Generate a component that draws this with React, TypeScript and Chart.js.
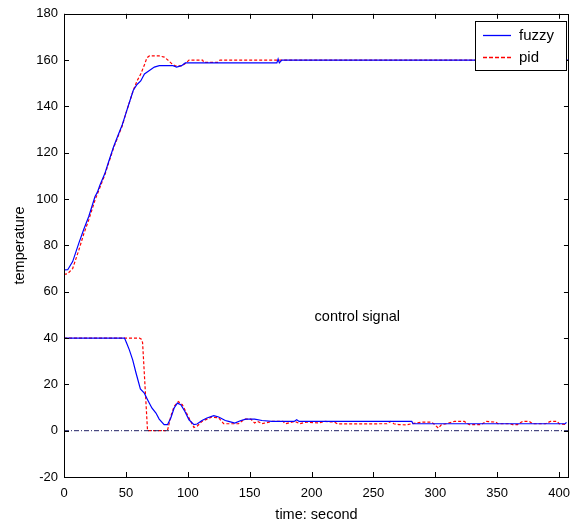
import React, { useEffect, useRef } from "react";
import { Chart, registerables } from "chart.js";

Chart.register(...registerables);

// ---- data ----
const xTicks = [0, 50, 100, 150, 200, 250, 300, 350, 400];
const yTicks = [-20, 0, 20, 40, 60, 80, 100, 120, 140, 160, 180];

const fuzzyTempT = [0, 3, 7, 12, 16, 20, 25, 27, 29, 33, 36, 40, 44, 47, 50, 53, 56, 59, 62, 65, 69, 73, 77, 82, 88, 91, 95, 98, 101, 140, 172, 173, 174, 176, 408];
const fuzzyTempV = [69.4, 69.5, 73, 81, 87, 92.5, 101, 103, 106, 111, 116, 122.5, 128, 132, 137, 142, 147, 149.5, 151, 154, 155.5, 157, 157.6, 157.6, 157.6, 157, 157.6, 158.8, 158.8, 158.8, 158.8, 160.5, 158.8, 160, 160];

const pidTempT = [0, 3, 7, 12, 16, 20, 25, 29, 33, 36, 40, 44, 47, 50, 53, 56, 59, 62, 65, 67, 69, 77, 81, 84, 87, 90, 95, 98, 101, 112, 113, 124, 126, 408];
const pidTempV = [67.5, 67.8, 70, 78, 85, 91, 99.5, 105, 110.5, 115.5, 122, 127.5, 131.5, 137, 142, 147, 151, 154, 158, 161, 161.8, 161.8, 161.3, 160, 158.5, 157.5, 157.5, 158.5, 160, 160, 159, 159, 160, 160];

const fuzzyCtrlT = [0, 48.9, 50.5, 52.8, 55.5, 58.2, 61.7, 64.9, 67.5, 71, 74.3, 76.9, 80.9, 83.6, 86.3, 89, 91.6, 94.4, 97.7, 101, 105, 107.5, 111.5, 115.5, 121, 125, 130.3, 133, 138, 143, 147, 154, 160, 168, 186, 188, 190, 281, 282, 405, 406];
const fuzzyCtrlV = [40, 40, 38, 34.9, 30.6, 24.9, 18, 16.2, 13.4, 9.8, 7.6, 5, 2.6, 2.6, 5.5, 9.8, 11.9, 11.2, 8.3, 4.7, 2.6, 2.9, 4.4, 5.5, 6.5, 5.9, 4.4, 4, 3.3, 4.4, 5, 5, 4.4, 4, 4, 4.7, 4, 4, 3, 3, 3.6];

const pidCtrlT = [0, 61, 62.5, 63.5, 67.5, 83.6, 86.3, 89, 92.4, 95.6, 101, 105, 107.5, 111.5, 115.5, 119.5, 125, 129, 141, 146, 151, 154, 156.5, 160, 168, 176.9, 179, 186.5, 190.5, 196, 206, 210.5, 218.5, 221, 261, 264, 266.5, 270.5, 277, 281, 289, 297, 299.5, 302.5, 305, 309, 315.5, 323.5, 327.5, 337, 341, 349, 350.5, 360, 362.5, 366.5, 370.5, 376, 378.5, 389, 393, 398.5, 400, 406];
const pidCtrlV = [40, 40, 39.5, 38, 0, 0, 6.2, 10.5, 12.6, 11.2, 5.5, 1.4, 1.9, 4, 5, 5.9, 5.5, 3, 3, 5, 5, 3.3, 4, 3, 4, 4, 3, 4, 3, 3.7, 3.3, 4, 3.7, 2.9, 3, 4, 3, 2.6, 2.5, 3, 3.7, 3.7, 2.6, 1.1, 2.6, 3, 4, 4, 2.6, 2.6, 4, 3.7, 3, 3, 2.6, 2.6, 4, 4, 3, 3, 4, 4, 3, 2.6];

const zeroT = [0, 408];
const zeroV = [0, 0];

const legendLabels = ["fuzzy", "pid"];
const annotationText = "control signal";
const xTitle = "time: second";
const yTitle = "temperature";

const pts = (t: number[], v: number[]) => t.map((x, i) => ({ x, y: v[i] }));

const FONT = "'Liberation Sans', Arial, sans-serif";

const decorPlugin = {
  id: "decor",
  afterDatasetsDraw(chart: any) {
    const { ctx, chartArea: a, scales } = chart;
    const xs = scales.x;
    const ys = scales.y;
    ctx.save();
    ctx.lineWidth = 1;
    // frame
    ctx.strokeStyle = "#000";
    ctx.strokeRect(Math.round(a.left) + 0.5, Math.round(a.top) + 0.5, Math.round(a.right - a.left) - 1, Math.round(a.bottom - a.top));
    // inward ticks
    const tl = 5;
    ctx.beginPath();
    xTicks.forEach((t) => {
      const px = Math.round(xs.getPixelForValue(t)) + 0.5;
      ctx.moveTo(px, a.bottom);
      ctx.lineTo(px, a.bottom - tl);
      ctx.moveTo(px, a.top);
      ctx.lineTo(px, a.top + tl);
    });
    yTicks.forEach((v) => {
      const py = Math.round(ys.getPixelForValue(v)) + 0.5;
      ctx.moveTo(a.left, py);
      ctx.lineTo(a.left + tl, py);
      ctx.moveTo(a.right, py);
      ctx.lineTo(a.right - tl, py);
    });
    ctx.stroke();
    // annotation
    ctx.fillStyle = "#000";
    ctx.font = `14.5px ${FONT}`;
    ctx.textAlign = "center";
    ctx.textBaseline = "middle";
    ctx.fillText(annotationText, xs.getPixelForValue(237), ys.getPixelForValue(49));
    // legend
    const lx = 475.5, ly = 21.5, lw = 91, lh = 49;
    ctx.fillStyle = "#fff";
    ctx.fillRect(lx, ly, lw, lh);
    ctx.strokeStyle = "#000";
    ctx.strokeRect(lx, ly, lw, lh);
    ctx.font = `15px ${FONT}`;
    const rows = [
      { label: legendLabels[0], color: "rgb(0,0,255)", dash: [] as number[], y: 35.5 },
      { label: legendLabels[1], color: "rgb(255,0,0)", dash: [4, 2] as number[], y: 57.5 },
    ];
    rows.forEach((r) => {
      ctx.save();
      ctx.beginPath();
      ctx.setLineDash(r.dash);
      ctx.strokeStyle = r.color;
      ctx.lineWidth = 1.3;
      ctx.moveTo(483, r.y);
      ctx.lineTo(511, r.y);
      ctx.stroke();
      ctx.restore();
      ctx.fillStyle = "#000";
      ctx.textAlign = "left";
      ctx.fillText(r.label, 519, r.y);
    });
    ctx.restore();
  },
};

export default function App() {
  const ref = useRef<HTMLCanvasElement>(null);
  useEffect(() => {
    document.body.style.margin = "0";
    const chart = new Chart(ref.current!, {
      type: "line",
      data: {
        datasets: [
          { label: "zero", data: pts(zeroT, zeroV), borderColor: "#222266", borderWidth: 1, borderDash: [5, 2, 1, 2], pointRadius: 0 },
          { label: "fuzzyTemp", data: pts(fuzzyTempT, fuzzyTempV), borderColor: "#0000ff", borderWidth: 1.2, pointRadius: 0, tension: 0 },
          { label: "pidTemp", data: pts(pidTempT, pidTempV), borderColor: "#ff0000", borderWidth: 1.2, borderDash: [3, 2], pointRadius: 0, tension: 0 },
          { label: "fuzzyCtrl", data: pts(fuzzyCtrlT, fuzzyCtrlV), borderColor: "#0000ff", borderWidth: 1.2, pointRadius: 0, tension: 0 },
          { label: "pidCtrl", data: pts(pidCtrlT, pidCtrlV), borderColor: "#ff0000", borderWidth: 1.2, borderDash: [3, 2], pointRadius: 0, tension: 0 },
        ],
      },
      options: {
        animation: false,
        responsive: true,
        maintainAspectRatio: false,
        layout: { padding: { left: 0, top: 13, right: 5.5, bottom: 0 } },
        plugins: { legend: { display: false }, tooltip: { enabled: false } },
        scales: {
          x: {
            type: "linear",
            min: 0,
            max: 408,
            afterFit: (s: any) => { s.height = 48; },
            afterBuildTicks: (s: any) => { s.ticks = xTicks.map((v) => ({ value: v })); },
            grid: { display: false, drawTicks: false },
            border: { display: false },
            ticks: { color: "#000", padding: 9, font: { family: FONT, size: 13 }, maxRotation: 0, autoSkip: false },
            title: { display: true, text: xTitle, color: "#000", font: { family: FONT, size: 14.5 }, padding: { top: 0, bottom: 1.3 } },
          },
          y: {
            type: "linear",
            min: -20,
            max: 180,
            afterFit: (s: any) => { s.width = 64; },
            afterBuildTicks: (s: any) => { s.ticks = yTicks.map((v) => ({ value: v })); },
            grid: { display: false, drawTicks: false },
            border: { display: false },
            ticks: { color: "#000", padding: 6, font: { family: FONT, size: 13 }, autoSkip: false },
            title: { display: true, text: yTitle, color: "#000", font: { family: FONT, size: 14.5 }, padding: { top: 11.3, bottom: 0 } },
          },
        },
      },
      plugins: [decorPlugin],
    } as any);
    return () => chart.destroy();
  }, []);
  return (
    <div style={{ position: "fixed", left: 0, top: 0, width: 579, height: 525, background: "#fff" }}>
      <canvas ref={ref} />
    </div>
  );
}
